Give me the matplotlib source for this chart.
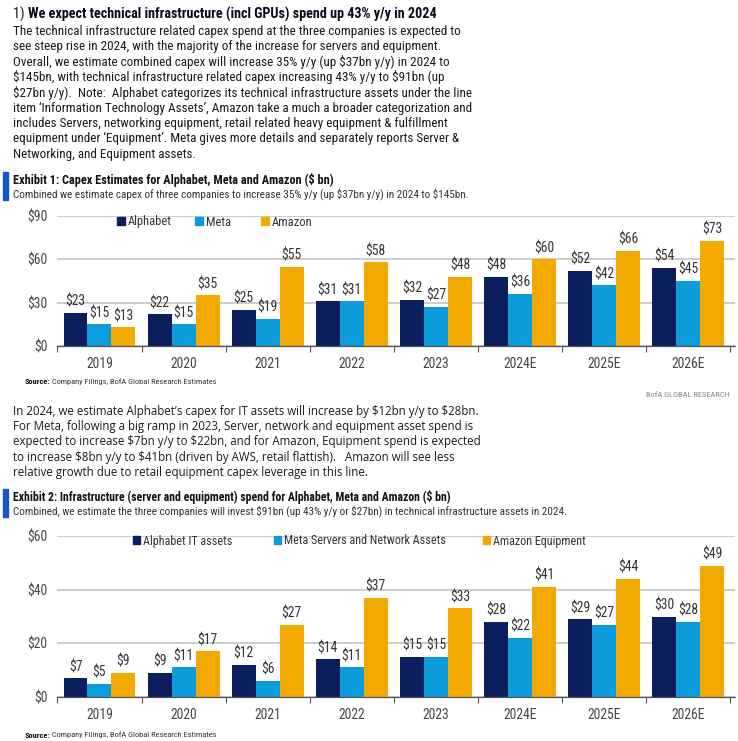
import matplotlib
matplotlib.use('Agg')
import matplotlib.pyplot as plt
import matplotlib.font_manager as fm
from matplotlib.patches import Rectangle
import numpy as np

plt.rcParams['text.parse_math'] = False

# ---------------- data ----------------
years = ['2019', '2020', '2021', '2022', '2023', '2024E', '2025E', '2026E']
capex_alphabet = [23, 22, 25, 31, 32, 48, 52, 54]
capex_meta = [15, 15, 19, 31, 27, 36, 42, 45]
capex_amazon = [13, 35, 55, 58, 48, 60, 66, 73]
capex_labels = ['Alphabet', 'Meta', 'Amazon']
capex_ticks = [0, 30, 60, 90]

infra_alphabet = [7, 9, 12, 14, 15, 28, 29, 30]
infra_meta = [5, 11, 6, 11, 15, 22, 27, 28]
infra_amazon = [9, 17, 27, 37, 33, 41, 44, 49]
infra_labels = ['Alphabet IT assets', 'Meta Servers and Network Assets', 'Amazon Equipment']
infra_ticks = [0, 20, 40, 60]

para1_title_num = '1) '
para1_title = 'We expect technical infrastructure (incl GPUs) spend up 43% y/y in 2024'
para1 = [
    'The technical infrastructure related capex spend at the three companies is expected to',
    'see steep rise in 2024, with the majority of the increase for servers and equipment.',
    'Overall, we estimate combined capex will increase 35% y/y (up $37bn y/y) in 2024 to',
    '$145bn, with technical infrastructure related capex increasing 43% y/y to $91bn (up',
    '$27bn y/y).  Note:  Alphabet categorizes its technical infrastructure assets under the line',
    'item \u2018Information Technology Assets\u2019, Amazon take a much a broader categorization and',
    'includes Servers, networking equipment, retail related heavy equipment & fulfillment',
    'equipment under \u2018Equipment\u2019. Meta gives more details and separately reports Server &',
    'Networking, and Equipment assets.',
]
ex1_title = 'Exhibit 1: Capex Estimates for Alphabet, Meta and Amazon ($ bn)'
ex1_sub = 'Combined we estimate capex of three companies to increase 35% y/y (up $37bn y/y) in 2024 to $145bn.'
para2 = [
    'In 2024, we estimate Alphabet\u2019s capex for IT assets will increase by $12bn y/y to $28bn.',
    'For Meta, following a big ramp in 2023, Server, network and equipment asset spend is',
    'expected to increase $7bn y/y to $22bn, and for Amazon, Equipment spend is expected',
    'to increase $8bn y/y to $41bn (driven by AWS, retail flattish).   Amazon will see less',
    'relative growth due to retail equipment capex leverage in this line.',
]
ex2_title = 'Exhibit 2: Infrastructure (server and equipment) spend for Alphabet, Meta and Amazon ($ bn)'
ex2_sub = 'Combined, we estimate the three companies will invest $91bn (up 43% y/y or $27bn) in technical infrastructure assets in 2024.'
source_bold = 'Source:'
source_text = ' Company Filings, BofA Global Research Estimates'
brand = 'BofA GLOBAL RESEARCH'

# ---------------- style ----------------
NAVY = '#0B1F5E'
LBLUE = '#0C9BDB'
AMBER = '#F2A900'
ACCENT = '#1356C8'
TXT = '#1a1a1a'
colors = [NAVY, LBLUE, AMBER]

names = {f.name for f in fm.fontManager.ttflist}
def pick(cands, default='DejaVu Sans'):
    for c in cands:
        if c in names:
            return c
    return default
NARROW = pick(['Liberation Sans Narrow', 'Roboto Condensed', 'Roboto', 'Liberation Sans'])
BODY2 = pick(['Open Sans', 'Noto Sans', 'Lato'])

W, H = 738, 741
fig = plt.figure(figsize=(W / 100, H / 100), dpi=100)
fig.patch.set_facecolor('white')
R = fig.canvas.get_renderer()

def fx(x):
    return x / W

def fy(y):
    return 1 - y / H

def measure(s, family, size, weight='normal'):
    t = fig.text(0, 0, s, fontsize=size, family=family, weight=weight)
    w = t.get_window_extent(renderer=R).width
    t.remove()
    return w

def fit_size(s, family, width, weight='normal'):
    return 10 * width / measure(s, family, 10, weight)

def put(x, y, s, family, size, weight='normal', color=TXT, ha='left'):
    return fig.text(fx(x), fy(y), s, fontsize=size, family=family, weight=weight,
                    color=color, ha=ha, va='center')

LEFT = 13

# paragraph 1 title
fs_t = fit_size(para1_title_num + para1_title, NARROW, 438 - LEFT, 'bold')
put(LEFT, 14, para1_title_num, NARROW, fs_t, color=TXT)
wnum = measure(para1_title_num, NARROW, fs_t)
put(LEFT + wnum, 14, para1_title, NARROW, fs_t, weight='bold', color='#0a0a1a')

# paragraph 1 body
fs_b = fit_size(para1[5], NARROW, 470 - LEFT)
for i, line in enumerate(para1):
    put(LEFT, 31 + i * 15.4, line, NARROW, fs_b)

def exhibit(y_title, title, sub, right_title, right_sub):
    fig.patches.append(Rectangle((fx(3), fy(y_title + 20)), fx(5), (28) / H,
                                 transform=fig.transFigure, color=ACCENT, zorder=5))
    put(LEFT, y_title, title, NARROW, fit_size(title, NARROW, right_title - LEFT, 'bold'),
        weight='bold', color='#111111')
    put(LEFT, y_title + 14, sub, NARROW, fit_size(sub, NARROW, right_sub - LEFT), color='#333333')

exhibit(180, ex1_title, ex1_sub, 332, 467)

def source(y):
    fs = 6.0
    put(25, y, source_bold, NARROW, fs, weight='bold', color='#111111')
    w = measure(source_bold, NARROW, fs, 'bold')
    put(25 + w, y, source_text, NARROW, fs, color='#333333')

def bar_chart(top, bottom, a, m, z, ticks, labels, legend_x, legend_y, legend_fs):
    ax = fig.add_axes([fx(57), fy(bottom), fx(735) - fx(57), (bottom - top) / H])
    x = np.arange(len(years))
    bw = 0.285
    conts = []
    for k, (vals, col) in enumerate(zip([a, m, z], colors)):
        c = ax.bar(x + (k - 1) * bw, vals, width=bw, color=col, zorder=3)
        ax.bar_label(c, labels=['$%d' % v for v in vals], padding=3, fontsize=9.8,
                     family=NARROW, color='#333333')
        conts.append(c)
    ax.set_xlim(-0.505, 7.556)
    ax.set_ylim(ticks[0], ticks[-1])
    ax.set_yticks(ticks)
    ax.set_yticklabels(['$%d' % t for t in ticks], family=NARROW, fontsize=9.8, color='#444444')
    ax.set_xticks(x)
    ax.set_xticklabels(years, family=NARROW, fontsize=9.8, color='#444444')
    ax.set_xticks(np.arange(-0.5, 8, 1), minor=True)
    ax.tick_params(axis='x', which='major', length=0, pad=8)
    ax.tick_params(axis='x', which='minor', length=4, color='#555555', width=0.8)
    ax.tick_params(axis='y', length=0, pad=7)
    ax.grid(axis='y', color='#c8c8c8', linewidth=1.3, zorder=0)
    for s in ['left', 'right', 'top']:
        ax.spines[s].set_visible(False)
    ax.spines['bottom'].set_color('#555555')
    ax.spines['bottom'].set_linewidth(0.9)
    ax.spines['bottom'].set_zorder(4)
    for c, lab, lx in zip(conts, labels, legend_x):
        h = Rectangle((0, 0), 1, 1, color=c.patches[0].get_facecolor())
        fig.legend([h], [lab], loc='center left', bbox_to_anchor=(fx(lx), fy(legend_y)),
                   frameon=False, handlelength=0.6, handleheight=0.6, handletextpad=0.25,
                   borderaxespad=0, borderpad=0,
                   prop={'family': NARROW, 'size': legend_fs}, labelcolor='#333333')
    return ax

bar_chart(216, 346, capex_alphabet, capex_meta, capex_amazon, capex_ticks,
          capex_labels, [117, 195, 261], 222, 9.0)
source(382)
put(730, 395, brand, NARROW, 6.0, color='#888888', ha='right')

fs_p2 = fit_size(para2[0], BODY2, 478 - LEFT)
for i, line in enumerate(para2):
    put(LEFT, 411 + i * 15.4, line, BODY2, fs_p2)

exhibit(497, ex2_title, ex2_sub, 452, 562)

bar_chart(536, 697, infra_alphabet, infra_meta, infra_amazon, infra_ticks,
          infra_labels, [133, 274, 483], 541, 8.7)
source(735)

fig.savefig('out.png', dpi=100, facecolor='white')
